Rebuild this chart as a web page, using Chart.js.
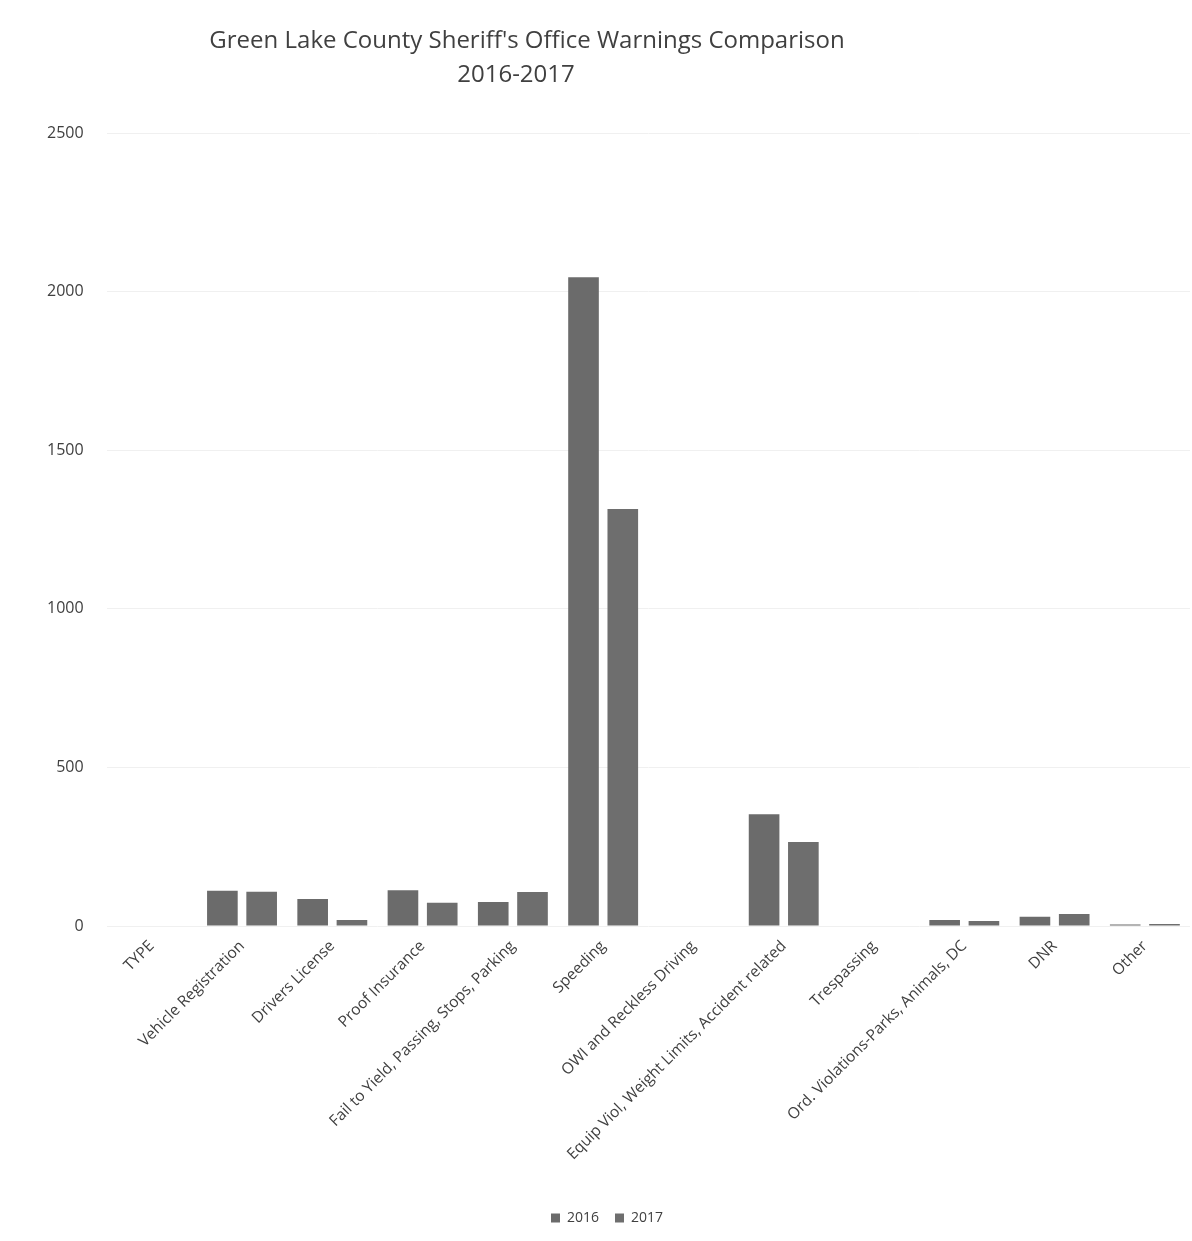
<!DOCTYPE html>
<html>
<head>
<meta charset="utf-8">
<script src="https://cdn.jsdelivr.net/npm/chart.js@4"></script>
<style>
  html, body { margin: 0; padding: 0; background: #fff; }
  #wrap { width: 1192px; height: 1241px; }
</style>
</head>
<body>
<div id="wrap"><canvas id="warnings-chart"></canvas></div>
<script>
var categories = [
  "TYPE",
  "Vehicle Registration",
  "Drivers License",
  "Proof Insurance",
  "Fail to Yield, Passing, Stops, Parking",
  "Speeding",
  "OWI and Reckless Driving",
  "Equip Viol, Weight Limits, Accident related",
  "Trespassing",
  "Ord. Violations-Parks, Animals, DC",
  "DNR",
  "Other"
];
var warnings2016 = [0, 111, 85, 113, 76, 2045, 0, 352, 0, 19, 29, 5];
var warnings2017 = [0, 108, 19, 73, 107, 1315, 0, 265, 0, 16, 38, 6];
var titleLines = ["Green Lake County Sheriff's Office Warnings Comparison", "2016-2017"];

var fontFamily = "'Open Sans', 'Liberation Sans', sans-serif";

// title is drawn by hand because it sits left of the canvas centre in the original
var titlePlugin = {
  id: "offsetTitle",
  afterDraw: function(chart) {
    var ctx = chart.ctx;
    ctx.save();
    ctx.fillStyle = "#404040";
    ctx.font = "24px " + fontFamily;
    ctx.textAlign = "center";
    ctx.textBaseline = "middle";
    ctx.fillText(titleLines[0], 527, 41);
    ctx.fillText(titleLines[1], 516, 75);
    ctx.restore();
  }
};

document.addEventListener("DOMContentLoaded", function(event) {
  var ctx = document.getElementById("warnings-chart").getContext("2d");
  var myChart = new Chart(ctx, {
    type: "bar",
    data: {
      labels: categories,
      datasets: [
        {
          label: "2016",
          data: warnings2016,
          backgroundColor: "#6b6b6b"
        },
        {
          label: "2017",
          data: warnings2017,
          backgroundColor: "#6e6e6e"
        }
      ]
    },
    plugins: [titlePlugin],
    options: {
      responsive: true,
      maintainAspectRatio: false,
      animation: false,
      layout: {
        padding: { top: 133, left: 24, right: 2, bottom: 6 }
      },
      datasets: {
        bar: {
          categoryPercentage: 0.87,
          barPercentage: 0.78
        }
      },
      plugins: {
        legend: {
          position: "bottom",
          labels: {
            boxWidth: 9,
            boxHeight: 9,
            padding: 16,
            color: "#404040",
            font: { family: fontFamily, size: 14 }
          }
        },
        tooltip: { enabled: false }
      },
      scales: {
        x: {
          grid: { display: false },
          border: { display: false },
          afterFit: function(scale) {
            // leave empty room between the slanted labels and the legend
            scale.height = 269;
          },
          ticks: {
            minRotation: 45,
            maxRotation: 45,
            color: "#404040",
            font: { family: fontFamily, size: 15.5 }
          }
        },
        y: {
          min: 0,
          max: 2500,
          grid: { color: "#f0f0f0", drawTicks: false },
          border: { display: false },
          ticks: {
            stepSize: 500,
            padding: 23,
            color: "#404040",
            font: { family: fontFamily, size: 16 },
            callback: function(value) { return String(value); }
          }
        }
      }
    }
  });
});
</script>
</body>
</html>
